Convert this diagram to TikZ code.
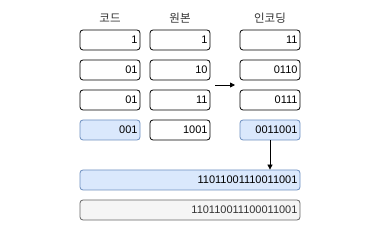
\documentclass[tikz,border=0pt]{standalone}
\usepackage{fontspec}
\setmainfont{Liberation Sans}
\newfontfamily\kr{Noto Sans CJK KR}
\usetikzlibrary{arrows.meta}
\definecolor{bluefill}{HTML}{DAE8FC}
\definecolor{bluestroke}{HTML}{6C8EBF}
\definecolor{grayfill}{HTML}{F5F5F5}
\definecolor{graystroke}{HTML}{666666}
\definecolor{graytext}{HTML}{333333}
\tikzset{
  cell/.style={draw=black, line width=0.8pt, rounded corners=3pt, fill=white,
    minimum height=20pt, inner xsep=2.5pt, inner ysep=0pt,
    text width=#1, align=right, font=\fontsize{11}{12}\selectfont, anchor=center},
  cell/.default=55pt,
  bluecell/.style={cell=#1, draw=bluestroke, fill=bluefill},
  bluecell/.default=55pt,
  graycell/.style={cell=#1, draw=graystroke, fill=grayfill, text=graytext},
  graycell/.default=55pt,
  header/.style={font=\kr\fontsize{11.5}{13}\selectfont, text=black!80, inner sep=0pt},
  conn/.style={-{Triangle[length=5pt,width=5pt]}, line width=0.8pt}
}
\begin{document}
\begin{tikzpicture}[x=1pt,y=-1pt]
\useasboundingbox (0,0) rectangle (380,240);
\node[header] (h1) at (110,18) {코드};
\node[header] (h2) at (180,18) {원본};
\node[header] (h3) at (270,18) {인코딩};
% column 1
\node[cell] (c11) at (110,40) {1};
\node[cell] (c12) at (110,70) {01};
\node[cell] (c13) at (110,100) {01};
\node[bluecell] (c14) at (110,130) {001};
% column 2
\node[cell] (c21) at (180,40) {1};
\node[cell] (c22) at (180,70) {10};
\node[cell] (c23) at (180,100) {11};
\node[cell] (c24) at (180,130) {1001};
% column 3
\node[cell] (c31) at (270,40) {11};
\node[cell] (c32) at (270,70) {0110};
\node[cell] (c33) at (270,100) {0111};
\node[bluecell] (c34) at (270,130) {0011001};
% wide
\node[bluecell=215pt] (w1) at (190,180) {11011001110011001};
\node[graycell=215pt] (w2) at (190,210) {110110011100011001};
% arrows
\coordinate (a1) at (215,85);
\coordinate (a2) at (235,85);
\draw[conn] (a1) -- (a2);
\draw[conn] (c34.south) -- (c34.south |- w1.north);
\end{tikzpicture}
\end{document}
